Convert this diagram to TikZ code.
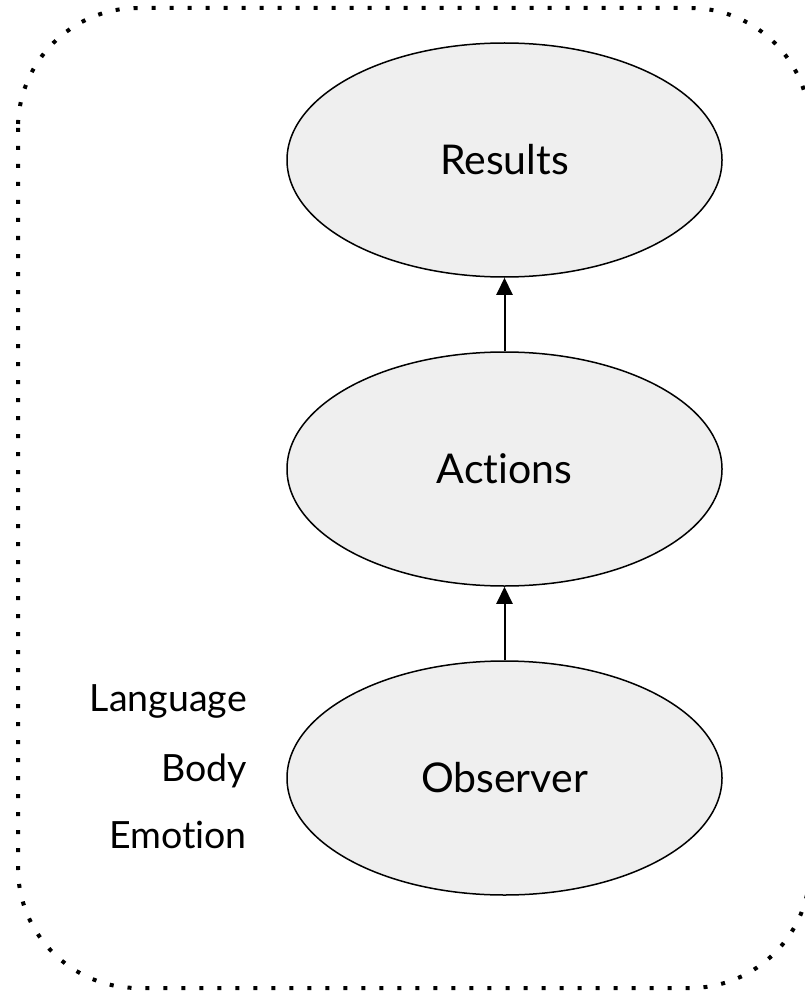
\documentclass[tikz,border=0pt]{standalone}
\usepackage{fontspec}
\setmainfont{Lato}[Ligatures={NoCommon}]
\usetikzlibrary{positioning}
\usetikzlibrary{math}
\usetikzlibrary{shapes.geometric}
\usetikzlibrary{arrows.meta}
\definecolor{ovalgray}{HTML}{EFEFEF}
\tikzset{
	oval/.style={ellipse,draw,fill=ovalgray,line width=1.5pt,minimum width=435pt,minimum height=234pt,inner sep=0pt,font=\fontsize{41}{48}\selectfont},
	side/.style={anchor=base east,inner sep=0pt,font=\fontsize{37.5}{44}\selectfont},
	up/.style={line width=2pt,-{Triangle[length=17pt,width=16pt]}}
}

\begin{document}
\begin{tikzpicture}[x=1pt,y=1pt]
	\tikzmath{\cx=504.5; \dy=-309;
	\oy=-778; \ay=\oy-\dy; \ry=\ay-\dy;
	\lx=247; \lay=-711; \lby=-781; \lcy=-848;
	}
	\useasboundingbox (0,0) rectangle (804,-992);
	\draw[line width=4pt,dash pattern=on 4pt off 14pt,rounded corners=120pt] (18,-8) rectangle (810,-988);
	\node[oval] (results) at (\cx,\ry) {Results};
	\node[oval] (actions) at (\cx,\ay) {Actions};
	\node[oval] (observer) at (\cx,\oy) {Observer};
	\node[side] (language) at (\lx,\lay) {Language};
	\node[side] (body) at (\lx,\lby) {Body};
	\node[side] (emotion) at (\lx,\lcy) {Emotion};
	\draw[up] (actions) -- (results);
	\draw[up] (observer) -- (actions);
\end{tikzpicture}
\end{document}
